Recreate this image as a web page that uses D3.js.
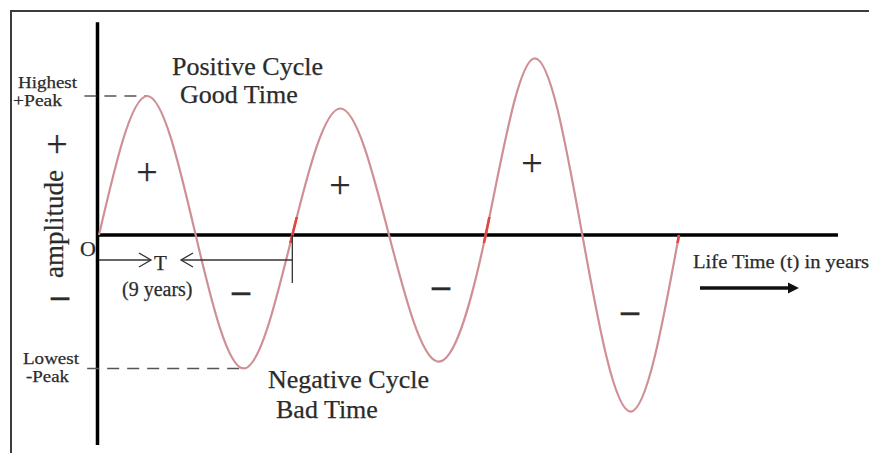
<!DOCTYPE html>
<html>
<head>
<meta charset="utf-8">
<script src="https://cdn.jsdelivr.net/npm/d3@7"></script>
<style>
  body { margin: 0; background: #fff; }
  svg text { font-family: "Liberation Serif", "Times New Roman", serif; fill: #2b2b2b; stroke: #2b2b2b; stroke-width: 0.25px; }
</style>
</head>
<body>
<div id="chart"></div>
<script>
// wave: zero crossings and peaks, time in years
const waveTime  = [0, 2.25, 4.5, 6.75, 9, 11.25, 13.5, 15.75, 18, 20.25, 22.5, 24.75, 27];
const waveValue = [0, 1.0, 0, -0.96, 0, 0.91, 0, -0.91, 0, 1.27, 0, -1.27, 0];

// zero crossings that carry the red marks
const markedTimes = [9, 18, 27];

// period annotation
const periodYears = 9;
const periodLabel = "(9 years)";

const plusSigns  = [[57, 147], [147, 175], [340, 188], [532, 166]];
const minusSigns = [[60, 298], [241, 293], [441, 288], [630, 313]];

const width = 869;
const height = 453;

const svg = d3.select("#chart")
  .append("svg")
  .attr("width", width)
  .attr("height", height);

// picture frame (top and left edge only)
svg.append("path")
  .attr("d", "M11," + height + "V11H" + width)
  .attr("fill", "none")
  .attr("stroke", "#3c3c3c")
  .attr("stroke-width", 2);

// scales
const x = d3.scaleLinear().domain([0, 27]).range([99, 679]);
const y = d3.scaleLinear().domain([-1, 1]).range([374, 96]);

// axes
svg.append("line")
  .attr("x1", x(-0.07)).attr("x2", x(-0.07))
  .attr("y1", y(1.53)).attr("y2", y(-1.51))
  .attr("stroke", "#000").attr("stroke-width", 3.5);

svg.append("line")
  .attr("x1", x(-0.1)).attr("x2", x(34.4))
  .attr("y1", y(0)).attr("y2", y(0))
  .attr("stroke", "#000").attr("stroke-width", 3.5);

// dashed peak guides
const guide = (v, t0, t1) => svg.append("line")
  .attr("x1", x(t0)).attr("x2", x(t1))
  .attr("y1", y(v)).attr("y2", y(v))
  .attr("stroke", "#555")
  .attr("stroke-width", 1.6)
  .attr("stroke-dasharray", "12,8");
guide(waveValue[1], -0.68, waveTime[1]);
guide(waveValue[3], -0.55, waveTime[3]);

// the wave
const pts = waveTime.map((t, i) => [t, waveValue[i]]);
const line = d3.line()
  .x(d => x(d[0]))
  .y(d => y(d[1]))
  .curve(d3.curveNatural);

svg.append("path")
  .attr("d", line(pts))
  .attr("fill", "none")
  .attr("stroke", "#cf9095")
  .attr("stroke-width", 2.2);

// red marks on some crossings
markedTimes.forEach((t, i) => {
  const id = "mark" + i;
  svg.append("clipPath").attr("id", id)
    .append("rect")
    .attr("x", x(t) - 8).attr("y", y(0.13))
    .attr("width", 16).attr("height", 26);
  svg.append("path")
    .attr("d", line(pts))
    .attr("clip-path", "url(#" + id + ")")
    .attr("fill", "none")
    .attr("stroke", "#e2473f")
    .attr("stroke-width", 2.6);
});

// period arrows
const py = y(-0.18);
const thin = { stroke: "#333", "stroke-width": 1.3, fill: "none" };
const addPath = d => {
  const p = svg.append("path").attr("d", d);
  Object.entries(thin).forEach(([k, v]) => p.attr(k, v));
};
addPath("M" + x(0) + "," + py + "H151");
addPath("M139," + (py - 7) + "L151," + py + "L139," + (py + 7));
addPath("M181," + py + "H" + x(periodYears));
addPath("M193," + (py - 7) + "L181," + py + "L193," + (py + 7));
addPath("M" + x(periodYears) + "," + y(0) + "V283");

// time direction arrow
svg.append("defs").append("marker")
  .attr("id", "head")
  .attr("viewBox", "0 0 10 10")
  .attr("refX", 2).attr("refY", 5)
  .attr("markerWidth", 3.2).attr("markerHeight", 3.2)
  .attr("orient", "auto")
  .append("path")
  .attr("d", "M0,0L10,5L0,10Z")
  .attr("fill", "#111");

svg.append("line")
  .attr("x1", 700).attr("x2", 790)
  .attr("y1", 288).attr("y2", 288)
  .attr("stroke", "#111").attr("stroke-width", 3.5)
  .attr("marker-end", "url(#head)");

// labels
const label = (txt, lx, ly, size, len) => {
  const t = svg.append("text")
    .attr("x", lx).attr("y", ly)
    .style("font-size", size + "px")
    .text(txt);
  if (len) t.attr("textLength", len).attr("lengthAdjust", "spacingAndGlyphs");
  return t;
};

label("Highest", 18, 88, 17, 59);
label("+Peak", 13, 106, 17, 49);
label("Lowest", 23, 364, 17, 56);
label("-Peak", 26, 382, 17, 43);

label("Positive Cycle", 172, 75, 26);
label("Good Time", 180, 103, 26);
label("Negative Cycle", 268, 388, 26);
label("Bad Time", 276, 418, 26);

label("O", 80, 256, 22);
label("T", 154, 270, 21);
label(periodLabel, 122, 296, 20);
label("Life Time (t) in years", 693, 268, 19.5, 176);

svg.append("text")
  .attr("transform", "translate(63,224) rotate(-90)")
  .attr("text-anchor", "middle")
  .style("font-size", "27px")
  .text("amplitude");

plusSigns.forEach(([cx, cy]) => {
  svg.append("text")
    .attr("x", cx).attr("y", cy + 10)
    .attr("text-anchor", "middle")
    .style("font-size", "38px")
    .text("+");
});

minusSigns.forEach(([cx, cy]) => {
  svg.append("text")
    .attr("x", cx).attr("y", cy + 9)
    .attr("text-anchor", "middle")
    .style("font-size", "36px")
    .style("font-weight", "bold")
    .text("–");
});
</script>
</body>
</html>
